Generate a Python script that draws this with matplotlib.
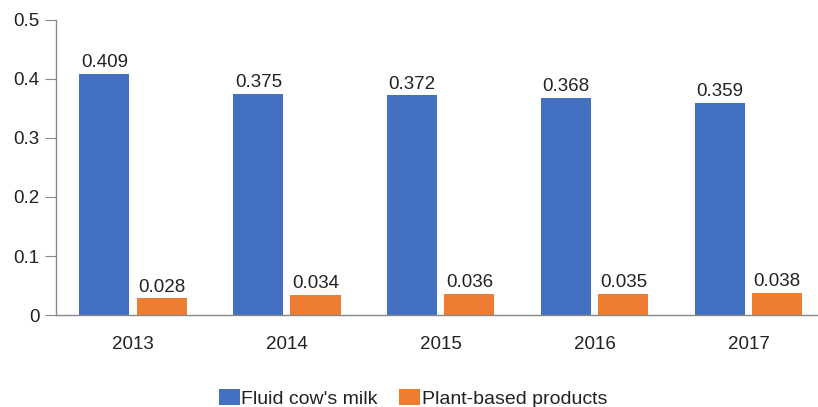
import numpy as np
import matplotlib.pyplot as plt

plt.rcParams['font.family'] = ['Liberation Sans', 'DejaVu Sans']

# Datos
anios = ["2013", "2014", "2015", "2016", "2017"]
leche_vaca = [0.409, 0.375, 0.372, 0.368, 0.359]
vegetales = [0.028, 0.034, 0.036, 0.035, 0.038]

color_azul = "#4470C2"
color_naranja = "#ED7D31"

fig = plt.figure(figsize=(8.18, 4.07), dpi=100)
ax = fig.add_axes([0.0685, 0.226, 0.9315, 0.725])

x = np.arange(len(anios))
ancho = 0.325
sep = 0.023

b1 = ax.bar(x - ancho / 2 - sep, leche_vaca, ancho, color=color_azul, label="Fluid cow's milk")
b2 = ax.bar(x + ancho / 2 + sep, vegetales, ancho, color=color_naranja, label="Plant-based products")

for barras, vals in [(b1, leche_vaca), (b2, vegetales)]:
    for rect, v in zip(barras, vals):
        ax.text(rect.get_x() + rect.get_width() / 2, v + 0.005, f"{v:.3f}",
                ha="center", va="bottom", fontsize=13.5, color="#222222")

ax.set_xlim(-0.5, 4.45)
ax.set_ylim(0, 0.5)
ax.set_yticks([0, 0.1, 0.2, 0.3, 0.4, 0.5])
ax.set_yticklabels(["0", "0.1", "0.2", "0.3", "0.4", "0.5"])
ax.set_xticks(x)
ax.set_xticklabels(anios)

for lado in ["top", "right"]:
    ax.spines[lado].set_visible(False)
for lado in ["left", "bottom"]:
    ax.spines[lado].set_color("#888888")
    ax.spines[lado].set_linewidth(1.0)

ax.tick_params(axis="y", length=8, color="#888888", labelsize=13.5, pad=4, labelcolor="#222222")
ax.tick_params(axis="x", length=0, labelsize=13.5, pad=15, labelcolor="#222222")

fig.legend(loc="lower center", bbox_to_anchor=(0.505, -0.045), ncol=2, frameon=False,
           fontsize=14, handlelength=1.05, handleheight=0.9, handletextpad=0.1,
           columnspacing=1.1, labelcolor="#222222")

fig.savefig("out.png", dpi=100)
